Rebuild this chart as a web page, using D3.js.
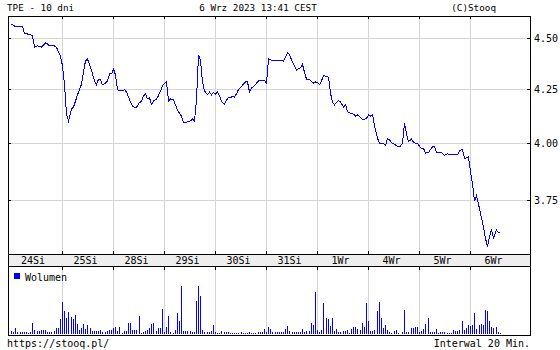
<!DOCTYPE html>
<html>
<head>
<meta charset="utf-8">
<script src="https://cdn.jsdelivr.net/npm/d3@7"></script>
<style>
  html, body { margin: 0; padding: 0; background: #fff; }
  svg { display: block; }
  text { font-family: "DejaVu Sans Mono", "Liberation Mono", monospace; font-size: 10px; fill: #000; }
  text.hdr { font-size: 9.3px; }
</style>
</head>
<body>
<svg id="chart" width="560" height="350"></svg>
<script>
// ---- Data ----
const title = "TPE - 10 dni";
const stamp = "6 Wrz 2023 13:41 CEST";
const brand = "(C)Stooq";
const footerLeft = "https://stooq.pl/";
const footerRight = "Interwal 20 Min.";
const legendLabel = "Wolumen";

const days = ["24Si", "25Si", "28Si", "29Si", "30Si", "31Si", "1Wr", "4Wr", "5Wr", "6Wr"];
const barsPerDay = 24;

const priceTicks = [3.75, 4.00, 4.25, 4.50];

// 20-minute closing prices (PLN)
const prices = [
  // 24Si
  4.573, 4.565, 4.559, 4.561, 4.560, 4.561, 4.522, 4.524, 4.519, 4.517, 4.512, 4.455,
  4.461, 4.459, 4.455, 4.466, 4.476, 4.471, 4.461, 4.461, 4.461, 4.454, 4.431, 4.411,
  // 25Si
  4.362, 4.270, 4.132, 4.100, 4.156, 4.165, 4.193, 4.222, 4.246, 4.274, 4.333, 4.387,
  4.396, 4.355, 4.323, 4.289, 4.270, 4.298, 4.294, 4.270, 4.279, 4.289, 4.323, 4.323,
  // 28Si
  4.347, 4.318, 4.246, 4.241, 4.241, 4.248, 4.236, 4.212, 4.189, 4.170, 4.164, 4.164,
  4.186, 4.191, 4.217, 4.227, 4.203, 4.208, 4.177, 4.193, 4.203, 4.219, 4.241, 4.265,
  // 29Si
  4.277, 4.285, 4.193, 4.203, 4.198, 4.175, 4.149, 4.137, 4.121, 4.095, 4.091, 4.098,
  4.100, 4.109, 4.100, 4.200, 4.416, 4.391, 4.284, 4.241, 4.224, 4.235, 4.222, 4.234,
  // 30Si
  4.225, 4.236, 4.219, 4.191, 4.179, 4.198, 4.209, 4.209, 4.215, 4.212, 4.227, 4.248,
  4.262, 4.274, 4.284, 4.284, 4.236, 4.255, 4.260, 4.272, 4.289, 4.290, 4.289, 4.291,
  // 31Si
  4.279, 4.396, 4.394, 4.387, 4.387, 4.391, 4.391, 4.390, 4.384, 4.406, 4.428, 4.419,
  4.379, 4.364, 4.340, 4.350, 4.352, 4.369, 4.330, 4.298, 4.297, 4.286, 4.279, 4.284,
  // 1Wr
  4.282, 4.271, 4.289, 4.314, 4.311, 4.306, 4.231, 4.186, 4.175, 4.185, 4.196, 4.189,
  4.164, 4.177, 4.143, 4.138, 4.134, 4.131, 4.123, 4.128, 4.117, 4.106, 4.107, 4.112,
  // 4Wr
  4.128, 4.123, 4.130, 4.077, 4.022, 3.998, 3.997, 3.999, 3.988, 4.019, 4.013, 4.002,
  3.993, 3.988, 3.982, 3.986, 3.998, 4.092, 4.041, 4.006, 4.017, 4.003, 3.998, 3.998,
  // 5Wr
  3.985, 3.973, 3.976, 3.954, 3.957, 3.970, 3.982, 3.983, 3.956, 3.959, 3.958, 3.954,
  3.944, 3.951, 3.947, 3.946, 3.946, 3.946, 3.946, 3.964, 3.971, 3.930, 3.933, 3.938,
  // 6Wr
  3.871, 3.819, 3.747, 3.770, 3.715, 3.676, 3.639, 3.592, 3.560, 3.600, 3.629, 3.594,
  3.627, 3.615, 3.614
];

// 20-minute volume (thousand shares)
const volumes = [
  // 24Si
  7, 4, 13, 4, 4, 4, 4, 5, 2, 5, 23, 9, 7, 7, 9, 9, 9, 5, 5, 5, 7, 13, 13, 31,
  // 25Si
  65, 47, 33, 45, 35, 31, 39, 21, 9, 13, 21, 11, 19, 13, 7, 7, 7, 7, 9, 5, 5, 7, 9, 9,
  // 28Si
  13, 15, 7, 15, 3, 7, 7, 23, 23, 9, 9, 9, 37, 2, 4, 7, 9, 13, 21, 23, 7, 13, 13, 51,
  // 29Si
  5, 15, 37, 5, 2, 9, 43, 27, 97, 7, 7, 7, 7, 4, 5, 67, 97, 77, 9, 4, 5, 5, 7, 19,
  // 30Si
  5, 2, 2, 7, 4, 4, 4, 2, 2, 2, 2, 2, 5, 2, 2, 2, 5, 2, 2, 2, 4, 5, 5, 11,
  // 31Si
  4, 15, 11, 5, 4, 5, 4, 4, 5, 11, 17, 7, 4, 5, 4, 4, 5, 11, 4, 7, 7, 23, 19, 85,
  // 1Wr
  9, 4, 9, 63, 33, 31, 17, 33, 7, 11, 5, 4, 7, 7, 9, 2, 11, 15, 15, 11, 9, 23, 15, 63,
  // 4Wr
  27, 7, 7, 9, 47, 65, 33, 13, 19, 9, 5, 3, 7, 9, 3, 1, 5, 49, 5, 4, 13, 12, 15, 15,
  // 5Wr
  5, 7, 11, 21, 33, 5, 5, 4, 11, 3, 4, 4, 4, 2, 3, 3, 9, 7, 7, 9, 25, 9, 13, 19,
  // 6Wr
  17, 19, 43, 11, 19, 21, 19, 49, 47, 27, 15, 13, 15, 5, 2
];

// ---- Layout ----
const L = 8, R = 530;
const priceTop = 16, priceBottom = 254;
const bandBottom = 266, volBottom = 335;
const GRID = "#d4d4d4", BLUE = "#0000ff", BAND = "#eeeeee";

const svg = d3.select("#chart");

const x = d3.scaleLinear().domain([0, days.length * barsPerDay]).range([11, 521]);
const y = d3.scaleLog().domain([3.530, 4.614]).range([priceBottom, priceTop]);
const yv = d3.scaleLinear().domain([0, 120]).range([334, 274]);

const g = svg.append("g").attr("shape-rendering", "crispEdges");

// band under price panel
g.append("rect").attr("x", L).attr("y", priceBottom).attr("width", R - L).attr("height", bandBottom - priceBottom).attr("fill", BAND);

// vertical grid (day boundaries)
const bounds = d3.range(1, days.length).map(d => Math.round(x(d * barsPerDay)));
g.selectAll(".vg1").data(bounds).join("line")
  .attr("x1", d => d + 0.5).attr("x2", d => d + 0.5)
  .attr("y1", priceTop).attr("y2", priceBottom).attr("stroke", GRID);
g.selectAll(".vg2").data(bounds).join("line")
  .attr("x1", d => d + 0.5).attr("x2", d => d + 0.5)
  .attr("y1", bandBottom).attr("y2", volBottom).attr("stroke", GRID);

// horizontal grid
g.selectAll(".hg").data(priceTicks).join("line")
  .attr("x1", L).attr("x2", R)
  .attr("y1", d => Math.round(y(d)) + 0.5).attr("y2", d => Math.round(y(d)) + 0.5)
  .attr("stroke", GRID);

// volume bars
g.selectAll(".vb").data(volumes).join("rect")
  .attr("x", (d, i) => Math.round(x(i)))
  .attr("y", d => Math.round(yv(d)))
  .attr("width", 1)
  .attr("height", d => 334 - Math.round(yv(d)))
  .attr("fill", BLUE);

// price line
const line = d3.line().x((d, i) => Math.round(x(i)) + 0.5).y(d => y(d));
g.append("path").datum(prices).attr("d", line)
  .attr("fill", "none").attr("stroke", BLUE).attr("stroke-width", 1);

// frame
const frame = [
  [L, priceTop, R, priceTop],
  [L, priceBottom, R, priceBottom],
  [L, bandBottom, R, bandBottom],
  [L, volBottom, R + 1, volBottom],
  [L, priceTop, L, volBottom],
  [R, priceTop, R, volBottom]
];
g.selectAll(".fr").data(frame).join("line")
  .attr("x1", d => d[0] + (d[0] === d[2] ? 0.5 : 0))
  .attr("x2", d => d[2] + (d[0] === d[2] ? 0.5 : 0))
  .attr("y1", d => d[1] + (d[1] === d[3] ? 0.5 : 0))
  .attr("y2", d => d[3] + (d[1] === d[3] ? 0.5 : 0))
  .attr("stroke", "#000");

// ticks at day boundaries
const tickSegs = [];
bounds.forEach(b => {
  tickSegs.push([b, priceTop, priceTop + 3]);
  tickSegs.push([b, priceBottom - 3, priceBottom]);
  tickSegs.push([b, bandBottom, bandBottom + 4]);
});
g.selectAll(".tk").data(tickSegs).join("line")
  .attr("x1", d => d[0] + 0.5).attr("x2", d => d[0] + 0.5)
  .attr("y1", d => d[1]).attr("y2", d => d[2]).attr("stroke", "#000");

// price ticks on both axes
g.selectAll(".ytkL").data(priceTicks).join("line")
  .attr("x1", L).attr("x2", L + 3)
  .attr("y1", d => Math.round(y(d)) + 0.5).attr("y2", d => Math.round(y(d)) + 0.5).attr("stroke", "#000");
g.selectAll(".ytkR").data(priceTicks).join("line")
  .attr("x1", R - 3).attr("x2", R)
  .attr("y1", d => Math.round(y(d)) + 0.5).attr("y2", d => Math.round(y(d)) + 0.5).attr("stroke", "#000");

// price labels
svg.selectAll(".yl").data(priceTicks).join("text")
  .attr("x", R + 4).attr("y", d => Math.round(y(d)) + 4)
  .text(d => d.toFixed(2));

// day labels
svg.selectAll(".dl").data(days).join("text")
  .attr("x", (d, i) => {
    const a = i === 0 ? L : x(i * barsPerDay);
    const b = x((i + 1) * barsPerDay);
    return (a + b) / 2 - 2;
  })
  .attr("y", 264)
  .attr("text-anchor", "middle")
  .text(d => d);

// header
svg.append("text").attr("class", "hdr").attr("x", 7).attr("y", 11).text(title);
svg.append("text").attr("class", "hdr").attr("x", 258).attr("y", 11).attr("text-anchor", "middle").text(stamp);
svg.append("text").attr("class", "hdr").attr("x", 496).attr("y", 11).attr("text-anchor", "end").text(brand);

// legend
svg.append("rect").attr("x", 14).attr("y", 273).attr("width", 6).attr("height", 6)
  .attr("fill", BLUE).attr("shape-rendering", "crispEdges");
svg.append("text").attr("x", 25).attr("y", 281).text(legendLabel);

// footer
svg.append("text").attr("x", 7).attr("y", 347).text(footerLeft);
svg.append("text").attr("x", 530).attr("y", 347).attr("text-anchor", "end").text(footerRight);
</script>
</body>
</html>
